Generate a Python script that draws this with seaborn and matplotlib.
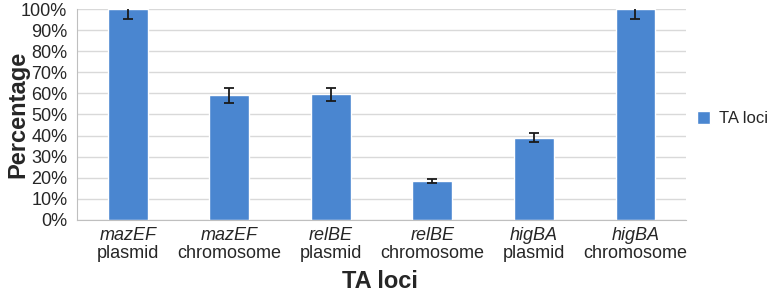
import pandas as pd
import matplotlib.pyplot as plt
import matplotlib.transforms as mtransforms
import seaborn as sns

genes = ["mazEF", "mazEF", "relBE", "relBE", "higBA", "higBA"]
sites = ["plasmid", "chromosome", "plasmid", "chromosome", "plasmid", "chromosome"]
percent = [100, 59, 59.5, 18.5, 39, 100]
errors = [4.5, 3.5, 3, 1, 2, 4.5]

look = pd.DataFrame({
    "Locus": [g + " " + s for g, s in zip(genes, sites)],
    "Percentage": percent,
    "Series": "TA loci",
})

sns.set_style("white")
plt.rcParams["font.family"] = ["Liberation Sans", "DejaVu Sans"]

fig = plt.figure(figsize=(7.7, 2.92), dpi=100)
ax = fig.add_axes([0.1, 0.247, 0.791, 0.722])

sns.barplot(x="Locus", y="Percentage", hue="Series", data=look,
            palette=["#4a86d0"], width=0.39, ax=ax, saturation=1)
ax.errorbar(range(len(percent)), percent, yerr=errors, fmt="none",
            ecolor="#1a1a1a", elinewidth=1.3, capsize=3.5, capthick=1.3, zorder=5)

ax.set_ylim(0, 100)
ax.set_xlim(-0.5, len(percent) - 0.5)
ax.set_yticks(range(0, 101, 10))
ax.set_yticklabels([f"{v}%" for v in range(0, 101, 10)], fontsize=13)
ax.yaxis.grid(True, color="#d9d9d9", linewidth=1)
ax.set_axisbelow(True)

# x ticks at category boundaries, labels drawn as text
ax.set_xticks([i - 0.5 for i in range(len(percent) + 1)])
ax.set_xticklabels([])
ax.tick_params(axis="x", length=5, color="#bfbfbf", width=1, direction="out")
ax.tick_params(axis="y", length=5, color="#bfbfbf", width=1, direction="out", pad=2)
trans = mtransforms.blended_transform_factory(ax.transData, fig.transFigure)
for i, (g, s) in enumerate(zip(genes, sites)):
    ax.text(i, 1 - 236 / 292, g, transform=trans, ha="center", va="center",
            fontsize=13, style="italic")
    ax.text(i, 1 - 254 / 292, s, transform=trans, ha="center", va="center",
            fontsize=13)

for side in ["top", "right"]:
    ax.spines[side].set_visible(False)
ax.spines["left"].set_color("#bfbfbf")
ax.spines["bottom"].set_color("#bfbfbf")

ax.set_xlabel("")
ax.set_ylabel("")
fig.text(380 / 770, 1 - 281 / 292, "TA loci", ha="center", va="center",
         fontsize=17, fontweight="bold")
fig.text(18 / 770, 1 - 114 / 292, "Percentage", ha="center", va="center",
         fontsize=17, fontweight="bold", rotation=90)

ax.legend(loc="center left", bbox_to_anchor=(1.018, 0.48), frameon=False,
          fontsize=12, handlelength=0.8, handleheight=0.8, handletextpad=0.5,
          borderpad=0, borderaxespad=0)

fig.savefig("out.png", dpi=100)
